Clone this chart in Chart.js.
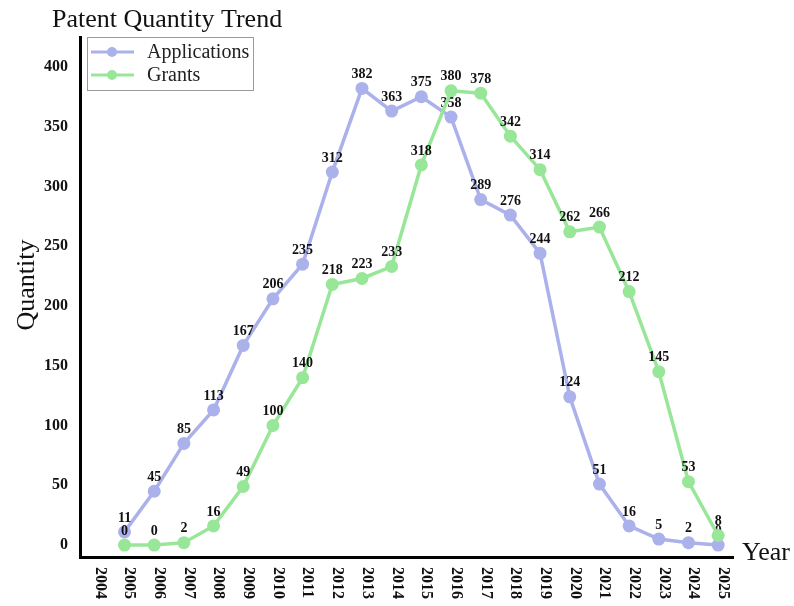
<!DOCTYPE html>
<html>
<head>
<meta charset="utf-8">
<script src="https://cdn.jsdelivr.net/npm/chart.js@4.4.1/dist/chart.umd.min.js"></script>
<style>
    html, body { margin: 0; padding: 0; background: #ffffff; }
    #chartWrap { width: 794px; height: 606px; }
</style>
</head>
<body>
<div id="chartWrap"><canvas id="patentChart" width="794" height="606"></canvas></div>
<script>
// Chart data
const years = ['2004', '2005', '2006', '2007', '2008', '2009', '2010', '2011', '2012', '2013', '2014',
    '2015', '2016', '2017', '2018', '2019', '2020', '2021', '2022', '2023', '2024', '2025'];
const applications = [null, 11, 45, 85, 113, 167, 206, 235, 312, 382, 363,
    375, 358, 289, 276, 244, 124, 51, 16, 5, 2, 0];
const grants = [null, 0, 0, 2, 16, 49, 100, 140, 218, 223, 233,
    318, 380, 378, 342, 314, 262, 266, 212, 145, 53, 8];
const yTicks = [0, 50, 100, 150, 200, 250, 300, 350, 400];

// Styles
const APP_COLOR = '#abb1ea';
const GRANT_COLOR = '#98e698';
const SERIF = '"Liberation Serif", "Times New Roman", serif';

// Draws the value labels above the points, right after each dataset
const valueLabels = {
    id: 'valueLabels',
    afterDatasetDraw(chart, args) {
        const ctx = chart.ctx;
        const data = chart.data.datasets[args.index].data;
        ctx.save();
        ctx.font = 'bold 14px ' + SERIF;
        ctx.fillStyle = '#111111';
        ctx.textAlign = 'center';
        ctx.textBaseline = 'bottom';
        args.meta.data.forEach((pt, i) => {
            if (data[i] === null) return;
            ctx.fillText(String(data[i]), pt.x, pt.y - 7);
        });
        ctx.restore();
    }
};

// Title, legend, axis titles and rotated year labels
const decorations = {
    id: 'decorations',
    afterDraw(chart) {
        const ctx = chart.ctx;
        const xScale = chart.scales.x;
        const area = chart.chartArea;
        ctx.save();

        // title
        ctx.fillStyle = '#111111';
        ctx.font = '26px ' + SERIF;
        ctx.textAlign = 'left';
        ctx.textBaseline = 'alphabetic';
        ctx.fillText('Patent Quantity Trend', 52, 27);

        // axis titles
        ctx.fillText('Year', area.right + 9, area.bottom + 3);
        ctx.save();
        ctx.translate(34, 285);
        ctx.rotate(-Math.PI / 2);
        ctx.textAlign = 'center';
        ctx.fillText('Quantity', 0, 0);
        ctx.restore();

        // year labels, reading top to bottom
        ctx.font = 'bold 16px ' + SERIF;
        ctx.textBaseline = 'middle';
        years.forEach((label, i) => {
            ctx.save();
            ctx.translate(xScale.getPixelForTick(i) + 5, area.bottom + 10);
            ctx.rotate(Math.PI / 2);
            ctx.textAlign = 'left';
            ctx.fillText(label, 0, 0);
            ctx.restore();
        });

        // legend box
        ctx.fillStyle = '#ffffff';
        ctx.fillRect(87.5, 37.5, 166, 53);
        ctx.strokeStyle = '#9a9a9a';
        ctx.lineWidth = 1;
        ctx.strokeRect(87.5, 37.5, 166, 53);
        const entries = [['Applications', APP_COLOR, 52], ['Grants', GRANT_COLOR, 75]];
        entries.forEach(([name, color, y]) => {
            ctx.strokeStyle = color;
            ctx.lineWidth = 3;
            ctx.beginPath();
            ctx.moveTo(91, y);
            ctx.lineTo(134, y);
            ctx.stroke();
            ctx.fillStyle = color;
            ctx.beginPath();
            ctx.arc(112, y, 5, 0, Math.PI * 2);
            ctx.fill();
            ctx.fillStyle = '#222222';
            ctx.font = '20px ' + SERIF;
            ctx.textBaseline = 'middle';
            ctx.fillText(name, 147, y + 1);
        });

        ctx.restore();
    }
};

function createPatentChart() {
    const ctx = document.getElementById('patentChart').getContext('2d');

    new Chart(ctx, {
        type: 'line',
        data: {
            labels: years,
            datasets: [
                {
                    label: 'Applications',
                    data: applications,
                    order: 2,
                    borderColor: APP_COLOR,
                    backgroundColor: APP_COLOR,
                    borderWidth: 3.5,
                    pointRadius: 6.5,
                    pointBorderWidth: 0,
                    pointBackgroundColor: APP_COLOR,
                    tension: 0,
                    clip: false
                },
                {
                    label: 'Grants',
                    data: grants,
                    order: 1,
                    borderColor: GRANT_COLOR,
                    backgroundColor: GRANT_COLOR,
                    borderWidth: 3.5,
                    pointRadius: 6.5,
                    pointBorderWidth: 0,
                    pointBackgroundColor: GRANT_COLOR,
                    tension: 0,
                    clip: false
                }
            ]
        },
        options: {
            responsive: false,
            animation: false,
            devicePixelRatio: 1,
            layout: {
                padding: { top: 37, right: 61, left: 0, bottom: 0 }
            },
            plugins: {
                legend: { display: false },
                title: { display: false },
                tooltip: { enabled: false }
            },
            scales: {
                x: {
                    type: 'category',
                    offset: true,
                    grid: { display: false, drawTicks: false },
                    border: { display: true, color: '#000000', width: 3 },
                    ticks: { display: false },
                    afterFit(scale) { scale.height = 49; }
                },
                y: {
                    min: -10,
                    max: 425,
                    grid: { display: false, drawTicks: false },
                    border: { display: true, color: '#000000', width: 3 },
                    ticks: {
                        padding: 12,
                        color: '#111111',
                        font: { family: SERIF, size: 16, weight: 'bold' }
                    },
                    afterBuildTicks(scale) {
                        scale.ticks = yTicks.map(v => ({ value: v }));
                    },
                    afterFit(scale) { scale.width = 80; }
                }
            }
        },
        plugins: [valueLabels, decorations]
    });
}

createPatentChart();
</script>
</body>
</html>
